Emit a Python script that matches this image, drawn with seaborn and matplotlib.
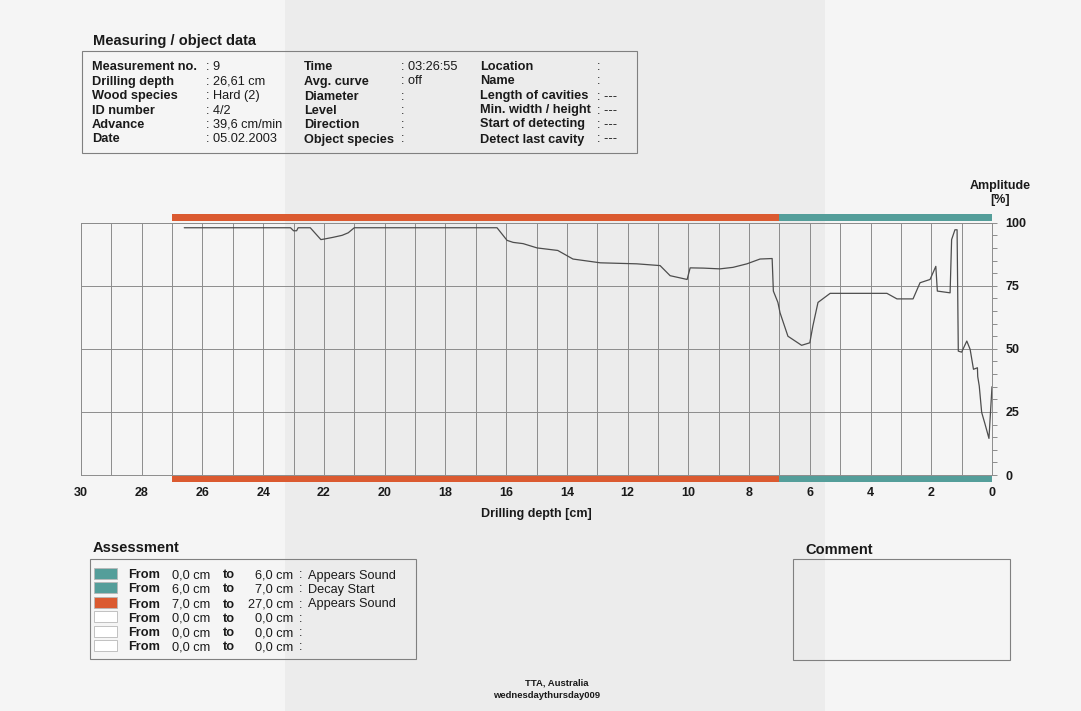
import matplotlib
matplotlib.use("Agg")
import matplotlib.pyplot as plt
from matplotlib.patches import Rectangle
from matplotlib.ticker import MultipleLocator, FixedLocator
import seaborn as sns

# ---- resistance drilling profile (depth in cm, amplitude in %) ----
depth_cm = [26.6, 23.1, 23.0, 22.9, 22.85, 22.45, 22.1, 22.0, 21.7, 21.4, 21.2, 21.05, 21.0,
            16.3, 15.97, 15.77, 15.44, 14.98, 14.3, 13.8, 12.9, 11.7, 10.93, 10.6, 10.3, 10.04,
            9.94, 9.5, 8.96, 8.53, 8.07, 7.64, 7.24, 7.2, 7.05, 6.98, 6.72, 6.27, 6.0, 5.9,
            5.73, 5.33, 3.46, 3.13, 2.6, 2.37, 2.04, 1.85, 1.8, 1.38, 1.33, 1.22, 1.15, 1.11,
            1.0, 0.83, 0.72, 0.61, 0.48, 0.47, 0.42, 0.34, 0.23, 0.1, 0.0]
amplitude_pct = [98.0, 98.0, 96.8, 96.8, 98.0, 98.0, 93.3, 93.5, 94.2, 95.0, 96.0, 97.5, 98.0,
                 98.0, 93.0, 92.2, 91.7, 90.0, 89.0, 85.6, 84.1, 83.7, 83.0, 79.0, 78.2, 77.5,
                 82.1, 82.0, 81.7, 82.3, 83.7, 85.6, 85.8, 72.9, 68.4, 64.3, 55.0, 51.4, 52.4, 59.0,
                 68.4, 72.0, 72.0, 69.8, 69.8, 76.2, 77.5, 82.7, 72.9, 72.2, 93.3, 97.2, 97.2, 49.1,
                 48.7, 53.1, 49.8, 41.9, 42.5, 39.0, 35.3, 24.8, 20.2, 14.5, 35.0]

# ---- assessment segments ----
seg_from = [0.0, 6.0, 7.0, 0.0, 0.0, 0.0]
seg_to = [6.0, 7.0, 27.0, 0.0, 0.0, 0.0]
seg_labels = ["Appears Sound", "Decay Start", "Appears Sound", "", "", ""]
seg_colors = ["#549e9a", "#549e9a", "#db5a30", "#ffffff", "#ffffff", "#ffffff"]

# ---- measuring / object data ----
col1_labels = ["Measurement no.", "Drilling depth", "Wood species", "ID number", "Advance", "Date"]
col1_values = ["9", "26,61 cm", "Hard (2)", "4/2", "39,6 cm/min", "05.02.2003"]
col2_labels = ["Time", "Avg. curve", "Diameter", "Level", "Direction", "Object species"]
col2_values = ["03:26:55", "off", "", "", "", ""]
col3_labels = ["Location", "Name", "Length of cavities", "Min. width / height",
               "Start of detecting", "Detect last cavity"]
col3_values = ["", "", "---", "---", "---", "---"]

x_ticks = list(range(0, 31, 2))
y_ticks = [0, 25, 50, 75, 100]

W, H = 1081, 711
sns.set_theme(style="white")
plt.rcParams["font.family"] = ["Liberation Sans", "DejaVu Sans"]

fig = plt.figure(figsize=(W / 100, H / 100), dpi=100)
fig.patch.set_facecolor("#f5f5f5")

grid_c = "#8c8c8c"
text_c = "#1a1a1a"
box_c = "#808080"


def P(x, y):
    """pixel position -> figure fraction"""
    return x / W, 1 - y / H


def txt(x, y, s, size=9.2, bold=False, **kw):
    # y is the visual middle of the capitals; the baseline is snapped to a whole pixel
    base = round(y + size * 0.5) + 0.5
    fig.text(*P(x, base), s, fontsize=size,
             fontweight="bold" if bold else "normal", color=text_c, va="baseline", **kw)


# faint shaded band across the page
fig.patches.append(Rectangle(P(285, H), 540 / W, 1, transform=fig.transFigure,
                             facecolor="#ececec", edgecolor="none", zorder=-5))

ax = fig.add_axes([81 / W, 1 - 475 / H, (992 - 81) / W, (475 - 222.7) / H])
ax.set_facecolor("none")

sns.lineplot(x=depth_cm, y=amplitude_pct, sort=False, estimator=None, ax=ax,
             color="#4d4d4d", linewidth=0.9, zorder=3)

# assessment bars above 100 % and below 0 %
for f, t, c in zip(seg_from, seg_to, seg_colors):
    if t > f:
        ax.barh(y=102.15, width=t - f, left=f, height=2.9, color=c, clip_on=False,
                linewidth=0, zorder=4)
        ax.barh(y=-1.5, width=t - f, left=f, height=2.6, color=c, clip_on=False,
                linewidth=0, zorder=4)

ax.set_xlim(30, 0)
ax.set_ylim(0, 100)
ax.xaxis.set_major_locator(FixedLocator(x_ticks))
ax.xaxis.set_minor_locator(MultipleLocator(1))
ax.yaxis.set_major_locator(FixedLocator(y_ticks))
ax.yaxis.set_minor_locator(MultipleLocator(5))
ax.yaxis.tick_right()
ax.set_xticklabels([str(v) for v in x_ticks], fontweight="bold", fontsize=9, color=text_c)
ax.set_yticklabels([str(v) for v in y_ticks], fontweight="bold", fontsize=9, color=text_c)
ax.tick_params(axis="x", which="both", length=0, pad=9)
ax.tick_params(axis="y", which="both", length=3.5, width=0.7, color=grid_c,
               direction="out", pad=6, right=True, left=False)
ax.grid(True, axis="x", which="both", color=grid_c, linewidth=0.7)
ax.grid(True, axis="y", which="major", color=grid_c, linewidth=0.7)
for s in ax.spines.values():
    s.set_color(grid_c)
    s.set_linewidth(0.7)
ax.set_xlabel("Drilling depth [cm]", fontweight="bold", fontsize=9, color=text_c, labelpad=6)
ax.set_ylabel("")
fig.text(*P(1000, 193), "Amplitude\n[%]", ha="center", va="center", fontsize=9,
         fontweight="bold", color=text_c, linespacing=1.15)

# ---- header block ----
txt(93, 40, "Measuring / object data", size=10.5, bold=True)
fig.patches.append(Rectangle(P(82, 153), (637 - 82) / W, (153 - 51) / H,
                             transform=fig.transFigure, facecolor="none",
                             edgecolor=box_c, linewidth=0.8))
rows_y = [65, 79.5, 94, 108.3, 122.7, 137]
cols = [(col1_labels, col1_values, 92, 206),
        (col2_labels, col2_values, 304, 401),
        (col3_labels, col3_values, 480, 597)]
for labels, values, xl, xc in cols:
    for y, lab, val in zip(rows_y, labels, values):
        txt(xl, y, lab, bold=True)
        txt(xc, y, ": " + val)

# ---- assessment legend ----
txt(93, 547, "Assessment", size=10.5, bold=True)
fig.patches.append(Rectangle(P(90, 659), (416 - 90) / W, (659 - 559) / H,
                             transform=fig.transFigure, facecolor="none",
                             edgecolor=box_c, linewidth=0.8))
leg_y = [573.3, 587.7, 602.3, 616.7, 631, 645.7]
for y, f, t, lab, c in zip(leg_y, seg_from, seg_to, seg_labels, seg_colors):
    fig.patches.append(Rectangle(P(94, y + 5.5), 23 / W, 11 / H, transform=fig.transFigure,
                                 facecolor=c, edgecolor="#b8b8b8", linewidth=0.6))
    txt(128, y, "From", bold=True)
    txt(172, y, f"{f:.1f} cm".replace(".", ","))
    txt(223, y, "to", bold=True)
    txt(293, y, f"{t:.1f} cm".replace(".", ","), ha="right")
    txt(299, y, ":")
    txt(308, y, lab)

# ---- comment box ----
txt(805, 548, "Comment", size=10.5, bold=True)
fig.patches.append(Rectangle(P(793, 660), (1010 - 793) / W, (660 - 559) / H,
                             transform=fig.transFigure, facecolor="none",
                             edgecolor=box_c, linewidth=0.8))

# ---- footer ----
fig.text(*P(557, 683), "TTA, Australia", fontsize=6.8, fontweight="bold", color=text_c,
         ha="center", va="center")
fig.text(*P(547, 696), "wednesdaythursday009", fontsize=6.8, fontweight="bold",
         color=text_c, ha="center", va="center")

fig.savefig("out.png", dpi=100, facecolor=fig.get_facecolor())
